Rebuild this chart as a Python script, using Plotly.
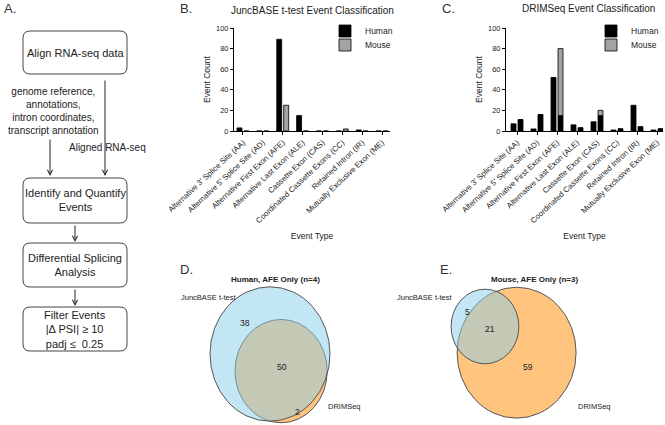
import math
import plotly.graph_objects as go

W, H = 665, 425
FONT = "Liberation Sans, Arial, sans-serif"


def X(p):
    return p / W


def Y(p):
    return 1 - p / H


# ---------------- data ----------------
categories = [
    "Alternative 3' Splice Site (AA)",
    "Alternative 5' Splice Site (AD)",
    "Alternative First Exon (AFE)",
    "Alternative Last Exon (ALE)",
    "Cassette Exon (CAS)",
    "Coordinated Cassette Exons (CC)",
    "Retained Intron (IR)",
    "Mutually Exclusive Exon (ME)",
]
y_ticks = [0, 20, 40, 60, 80, 100]

# B. JuncBASE t-test
junc_human = [3, 0, 89, 15, 0, 0, 1, 0]
junc_mouse = [0, 0, 25, 0, 0, 2, 0, 0]

# C. DRIMSeq (second bar of each pair: black part + grey part on top)
drim_human = [7, 2, 52, 6, 9, 1, 25, 1]
drim_second_black = [11, 16, 15, 3, 15, 2, 4, 2]
drim_mouse = [0, 0, 65, 0, 5, 0, 0, 0]

# D / E Venn counts: [JuncBASE only, both, DRIMSeq only]
human_venn = [38, 50, 2]
mouse_venn = [5, 21, 59]
venn_sets = ["JuncBASE t-test", "DRIMSeq"]

flow_steps = [
    "Align RNA-seq data",
    "Identify and Quantify<br>Events",
    "Differential Splicing<br>Analysis",
    "Filter Events<br>|Δ PSI| ≥ 10<br>padj ≤  0.25",
]
flow_inputs = "genome reference,<br>annotations,<br>intron coordinates,<br>transcript annotation"
flow_aligned = "Aligned RNA-seq"

BLACK = "#000000"
GREY = "#a3a3a3"

fig = go.Figure()

# ---------------- bar charts ----------------
BW = 0.25
OFF_L, OFF_R = -0.3, 0.05
fig.add_trace(go.Bar(x=categories, y=junc_human, name="Human", width=BW, offset=OFF_L,
                     marker=dict(color=BLACK, line=dict(color=BLACK, width=0.8)),
                     xaxis="x", yaxis="y", legend="legend"))
fig.add_trace(go.Bar(x=categories, y=junc_mouse, name="Mouse", width=BW, offset=OFF_R,
                     marker=dict(color=GREY, line=dict(color=BLACK, width=0.8)),
                     xaxis="x", yaxis="y", legend="legend2"))

fig.add_trace(go.Bar(x=categories, y=drim_human, name="Human", width=BW, offset=OFF_L,
                     marker=dict(color=BLACK, line=dict(color=BLACK, width=0.8)),
                     xaxis="x2", yaxis="y2", legend="legend3"))
fig.add_trace(go.Bar(x=categories, y=drim_second_black, name="Human", width=BW, offset=OFF_R,
                     marker=dict(color=BLACK, line=dict(color=BLACK, width=0.8)),
                     xaxis="x2", yaxis="y2", showlegend=False))
fig.add_trace(go.Bar(x=categories, y=drim_mouse, base=drim_second_black, name="Mouse",
                     width=BW, offset=OFF_R,
                     marker=dict(color=GREY, line=dict(color=BLACK, width=0.8)),
                     xaxis="x2", yaxis="y2", legend="legend4"))

axis_common = dict(showline=True, linecolor=BLACK, linewidth=1, ticks="outside",
                   ticklen=3, tickwidth=1, tickcolor=BLACK, showgrid=False,
                   zeroline=False, fixedrange=True)

xb = dict(axis_common, domain=[X(234), X(390)], range=[-0.45, 7.4], anchor="y",
          tickangle=-43, tickfont=dict(size=7.8, family=FONT, color="#222"),
          title=dict(text="Event Type", font=dict(size=8.5, family=FONT, color="#222"), standoff=8))
yb = dict(axis_common, domain=[Y(131), Y(28)], range=[0, 100], anchor="x",
          tickvals=y_ticks, tickfont=dict(size=7.5, family=FONT, color="#222"),
          title=dict(text="Event Count", font=dict(size=8.5, family=FONT, color="#222"), standoff=4))
xc = dict(xb, domain=[X(506), X(663)], range=[-0.55, 7.3], anchor="y2")
yc = dict(yb, domain=[Y(131), Y(28)], anchor="x2")


# ---------------- Venn diagrams ----------------
def overlap_area(r1, r2, d):
    if d >= r1 + r2:
        return 0.0
    if d <= abs(r1 - r2):
        return math.pi * min(r1, r2) ** 2
    a = r1 * r1 * math.acos((d * d + r1 * r1 - r2 * r2) / (2 * d * r1))
    b = r2 * r2 * math.acos((d * d + r2 * r2 - r1 * r1) / (2 * d * r2))
    c = 0.5 * math.sqrt((-d + r1 + r2) * (d + r1 - r2) * (d - r1 + r2) * (d + r1 + r2))
    return a + b - c


def solve_distance(r1, r2, target):
    lo, hi = abs(r1 - r2), r1 + r2
    for _ in range(200):
        mid = (lo + hi) / 2
        if overlap_area(r1, r2, mid) > target:
            lo = mid
        else:
            hi = mid
    return (lo + hi) / 2


shapes = []
venn_axes = {}


def add_venn(counts, xa, ya, k, s, cen, ang_deg, dom):
    only_j, both, only_d = counts
    r1 = math.sqrt(only_j + both)
    r2 = math.sqrt(only_d + both)
    d = solve_distance(r1, r2, math.pi * both)
    a = math.radians(ang_deg)
    c2 = (d * math.cos(a), d * math.sin(a))
    # DRIMSeq first (orange), then JuncBASE (blue) on top
    shapes.append(dict(type="circle", xref=xa, yref=ya, x0=c2[0] - r2, x1=c2[0] + r2,
                       y0=c2[1] - r2, y1=c2[1] + r2, fillcolor="rgba(255,140,0,0.5)",
                       line=dict(color="#555555", width=1)))
    shapes.append(dict(type="circle", xref=xa, yref=ya, x0=-r1, x1=r1, y0=-r1, y1=r1,
                       fillcolor="rgba(135,206,235,0.5)", line=dict(color="#555555", width=1)))
    x0, y0, x1, y1 = dom
    cx, cy = cen
    venn_axes[xa] = dict(domain=[X(x0), X(x1)], range=[(x0 - cx) / k, (x1 - cx) / k],
                         visible=False, fixedrange=True)
    venn_axes[ya] = dict(domain=[Y(y1), Y(y0)], range=[-(y1 - cy) / (k * s), (cy - y0) / (k * s)],
                         visible=False, fixedrange=True)


add_venn(human_venn, "x3", "y3", 60 / math.sqrt(88), 1.12, (270, 354), -54, (170, 283, 420, 425))
add_venn(mouse_venn, "x4", "y4", 59.5 / math.sqrt(80), 1.1, (485, 326.5), -37, (420, 283, 665, 425))

# invisible anchors so the Venn axes exist
fig.add_trace(go.Scatter(x=[None], y=[None], xaxis="x3", yaxis="y3", showlegend=False, hoverinfo="skip"))
fig.add_trace(go.Scatter(x=[None], y=[None], xaxis="x4", yaxis="y4", showlegend=False, hoverinfo="skip"))


# ---------------- flowchart ----------------
def rrect(x0, y0, x1, y1, r=7):
    rx, ry = r / W, r / H
    a0, b0, a1, b1 = X(x0), Y(y0), X(x1), Y(y1)
    return (f"M {a0+rx},{b0} L {a1-rx},{b0} Q {a1},{b0} {a1},{b0-ry} "
            f"L {a1},{b1+ry} Q {a1},{b1} {a1-rx},{b1} L {a0+rx},{b1} Q {a0},{b1} {a0},{b1+ry} "
            f"L {a0},{b0-ry} Q {a0},{b0} {a0+rx},{b0} Z")


boxes = [(31, 74), (178, 223), (243, 287), (307, 351)]
for (t, b) in boxes:
    shapes.append(dict(type="path", xref="paper", yref="paper", path=rrect(23, t, 127, b),
                       line=dict(color="#444444", width=1), fillcolor="rgba(0,0,0,0)"))

ann = []
for (t, b), txt in zip(boxes, flow_steps):
    ann.append(dict(x=X(75), y=Y((t + b) / 2), xref="paper", yref="paper", text=txt,
                    showarrow=False, font=dict(size=11, family=FONT, color="#222"),
                    xanchor="center", yanchor="middle"))
ann.append(dict(x=X(53), y=Y(110.5), xref="paper", yref="paper", text=flow_inputs,
                showarrow=False, font=dict(size=10, family=FONT, color="#222"),
                xanchor="center", yanchor="middle"))
ann.append(dict(x=X(107), y=Y(148), xref="paper", yref="paper", text=flow_aligned,
                showarrow=False, font=dict(size=10, family=FONT, color="#222"),
                xanchor="center", yanchor="middle"))

arrows = [(50, 138, 50, 176), (105, 79, 105, 176), (75, 224, 75, 242), (75, 288, 75, 306)]
for (x0, y0, x1, y1) in arrows:
    ann.append(dict(x=X(x1), y=Y(y1), ax=x0 - x1, ay=y0 - y1, xref="paper", yref="paper",
                    axref="pixel", ayref="pixel", text="", showarrow=True, arrowhead=5,
                    arrowsize=1, arrowwidth=1, arrowcolor="#222"))

# panel labels and titles
for lbl, x, y in [("A.", 2, 9), ("B.", 178, 9), ("C.", 440, 9), ("D.", 178, 269), ("E.", 438, 269)]:
    ann.append(dict(x=X(x), y=Y(y), xref="paper", yref="paper", text=lbl, showarrow=False,
                    font=dict(size=13, family=FONT, color="#333"), xanchor="left", yanchor="middle"))
ann.append(dict(x=X(312), y=Y(10), xref="paper", yref="paper", text="JuncBASE t-test Event Classification",
                showarrow=False, font=dict(size=10, family=FONT, color="#222"), xanchor="center", yanchor="middle"))
ann.append(dict(x=X(588), y=Y(9), xref="paper", yref="paper", text="DRIMSeq Event Classification",
                showarrow=False, font=dict(size=10, family=FONT, color="#222"), xanchor="center", yanchor="middle"))
ann.append(dict(x=X(275), y=Y(279), xref="paper", yref="paper", text="<b>Human, AFE Only (n=4)</b>",
                showarrow=False, font=dict(size=8, family=FONT, color="#222"), xanchor="center", yanchor="middle"))
ann.append(dict(x=X(534), y=Y(279), xref="paper", yref="paper", text="<b>Mouse, AFE Only (n=3)</b>",
                showarrow=False, font=dict(size=8, family=FONT, color="#222"), xanchor="center", yanchor="middle"))

# Venn labels
venn_labels = [
    (venn_sets[0], 209, 297, 7.5), (str(human_venn[0]), 245, 323, 8.5), (str(human_venn[1]), 282, 367, 8.5),
    (str(human_venn[2]), 297, 412, 8.5), (venn_sets[1], 344, 406, 7.5),
    (venn_sets[0], 425, 297, 7.5), (str(mouse_venn[0]), 467, 312, 8.5), (str(mouse_venn[1]), 490, 329, 8.5),
    (str(mouse_venn[2]), 528, 367, 8.5), (venn_sets[1], 594, 406, 7.5),
]
for txt, x, y, fs in venn_labels:
    ann.append(dict(x=X(x), y=Y(y), xref="paper", yref="paper", text=txt, showarrow=False,
                    font=dict(size=fs, family=FONT, color="#222"), xanchor="center", yanchor="middle"))

leg = dict(font=dict(size=8.5, family=FONT, color="#222"), bgcolor="rgba(0,0,0,0)",
           xanchor="left", yanchor="middle", borderwidth=0, itemwidth=30)

fig.update_layout(
    width=W, height=H, margin=dict(l=0, r=0, t=0, b=0, pad=0, autoexpand=False),
    paper_bgcolor="white", plot_bgcolor="white",
    barmode="overlay",
    font=dict(family=FONT, color="#222"),
    xaxis=xb, yaxis=yb, xaxis2=xc, yaxis2=yc,
    xaxis3=dict(venn_axes["x3"], anchor="y3"), yaxis3=dict(venn_axes["y3"], anchor="x3"),
    xaxis4=dict(venn_axes["x4"], anchor="y4"), yaxis4=dict(venn_axes["y4"], anchor="x4"),
    legend=dict(leg, x=X(325), y=Y(31)),
    legend2=dict(leg, x=X(325), y=Y(45)),
    legend3=dict(leg, x=X(591), y=Y(31)),
    legend4=dict(leg, x=X(591), y=Y(45)),
    shapes=shapes, annotations=ann,
    showlegend=True,
)

fig.write_html("out.html", config={"displayModeBar": False},
               post_script="document.body.style.margin='0px';")
